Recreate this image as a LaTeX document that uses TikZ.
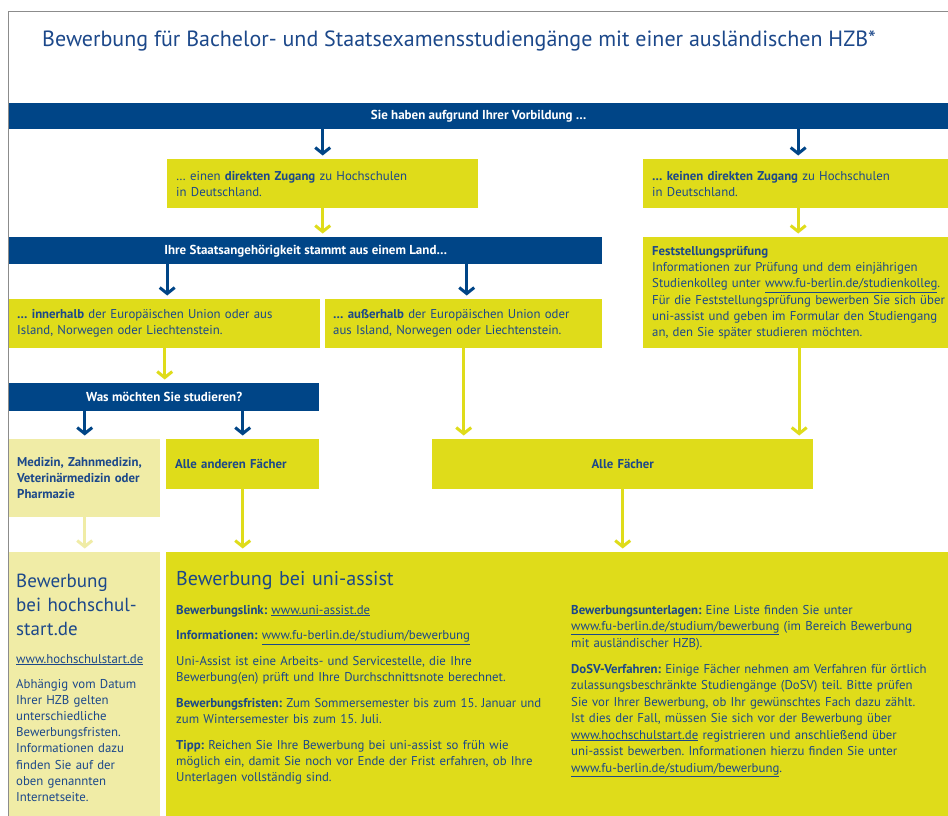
\documentclass[tikz,border=0pt]{standalone}
\usepackage{fontspec}
\setmainfont{PT Sans}
\usetikzlibrary{arrows.meta}
\definecolor{fublue}{RGB}{0,69,135}
\definecolor{fuyellow}{RGB}{223,220,26}
\definecolor{fulight}{RGB}{240,236,166}
\definecolor{futext}{RGB}{28,72,138}
\definecolor{frgray}{RGB}{140,140,140}
\newcommand\fulink[1]{\underline{#1}}
\newcommand\fubody{\fontsize{12.8}{16.2}\selectfont}
\frenchspacing
\tikzset{
  barbox/.style={fill=fublue, text=white, font=\bfseries\fontsize{13}{15}\selectfont,
    inner sep=0pt, anchor=north west, align=center},
  ybox/.style={fill=fuyellow, text=futext, font=\fubody, inner xsep=9pt, inner ysep=0pt,
    anchor=north west, align=left},
  lbox/.style={ybox, fill=fulight},
  bigbox/.style={inner sep=0pt, anchor=north west},
  para/.style={anchor=base west, inner sep=0pt, text=futext, font=\fubody, align=left},
  flowarrow/.style={line width=3pt, -{Straight Barb[length=6pt,width=15pt]}, shorten >=3.5pt},
  bluearrow/.style={flowarrow, draw=fublue},
  yelarrow/.style={flowarrow, draw=fuyellow},
  lightarrow/.style={flowarrow, draw=fulight},
}
\begin{document}
\begin{tikzpicture}[x=1pt,y=-1pt]
\useasboundingbox (0,0) rectangle (948,816);
\fill[white] (0,0) rectangle (948,816);
\draw[frgray, line width=1pt] (8.5,816) -- (8.5,11.5) -- (948,11.5);

\node[anchor=base west, inner sep=0pt, text=futext, font=\fontsize{22}{24}\selectfont] (title) at (42,47)
  {Bewerbung für Bachelor- und Staatsexamensstudiengänge mit einer ausländischen HZB*};

% bars
\node[barbox, minimum width=939pt, minimum height=26pt] (bar1) at (9,103) {Sie haben aufgrund Ihrer Vorbildung …};
\node[barbox, minimum width=593pt, minimum height=27pt] (bar2) at (9,237) {Ihre Staatsangehörigkeit stammt aus einem Land…};
\node[barbox, minimum width=310pt, minimum height=28pt] (bar3) at (9,383) {Was möchten Sie studieren?};

% yellow boxes
\node[ybox, text width=293pt, minimum height=49pt] (direkt) at (167,159)
  {… einen \textbf{direkten Zugang} zu Hochschulen\\in Deutschland.};
\node[ybox, text width=300pt, minimum height=49pt] (kein) at (643,159)
  {\textbf{… keinen direkten Zugang} zu Hochschulen\\in Deutschland.};
\node[ybox, text width=300pt, minimum height=111pt] (fest) at (643,237)
  {\textbf{Feststellungsprüfung}\\Informationen zur Prüfung und dem einjährigen\\Studienkolleg unter \fulink{www.fu-berlin.de/studienkolleg}.\\Für die Feststellungsprüfung bewerben Sie sich über\\uni-assist und geben im Formular den Studiengang\\an, den Sie später studieren möchten.};
\node[ybox, inner xsep=8pt, text width=295pt, minimum height=49pt] (innen) at (9,299)
  {\textbf{… innerhalb} der Europäischen Union oder aus\\Island, Norwegen oder Liechtenstein.};
\node[ybox, inner xsep=8pt, text width=261pt, minimum height=49pt] (aussen) at (325,299)
  {\textbf{… außerhalb} der Europäischen Union oder\\aus Island, Norwegen oder Liechtenstein.};
\node[lbox, inner xsep=8pt, text width=135pt, minimum height=78pt, font=\bfseries\fubody] (med) at (9,439)
  {Medizin, Zahnmedizin,\\Veterinärmedizin oder\\Pharmazie};
\node[ybox, text width=135pt, minimum height=50pt, font=\bfseries\fubody] (andere) at (166,439)
  {Alle anderen Fächer};
\node[ybox, text width=363pt, minimum height=50pt, font=\bfseries\fubody, align=center] (allef) at (432,439)
  {Alle Fächer};

% bottom boxes
\node[bigbox, fill=fulight, minimum width=151pt, minimum height=264pt] (hs) at (9,552) {};
\node[bigbox, fill=fuyellow, minimum width=782pt, minimum height=264pt] (ua) at (166,552) {};

\node[para, font=\fontsize{19}{24}\selectfont, text width=140pt] (hshead) at (16,587) {Bewerbung\\bei hochschul-\\start.de};
\node[para, text width=140pt] (hslink) at (16,663) {\fulink{www.hochschulstart.de}};
\node[para, text width=140pt] (hstext) at (16,688)
  {Abhängig vom Datum\\Ihrer HZB gelten\\unterschiedliche\\Bewerbungsfristen.\\Informationen dazu\\finden Sie auf der\\oben genannten\\Internetseite.};

\node[para, font=\fontsize{20}{24}\selectfont, text width=380pt] (uahead) at (176,585) {Bewerbung bei uni-assist};
\node[para, text width=390pt] (ualeft) at (176,614)
  {\textbf{Bewerbungslink:} \fulink{www.uni-assist.de}\\[9.5pt]
   \textbf{Informationen:} \fulink{www.fu-berlin.de/studium/bewerbung}\\[9.5pt]
   Uni-Assist ist eine Arbeits- und Servicestelle, die Ihre\\Bewerbung(en) prüft und Ihre Durchschnittsnote berechnet.\\[9.5pt]
   \textbf{Bewerbungsfristen:} Zum Sommersemester bis zum 15. Januar und\\zum Wintersemester bis zum 15. Juli.\\[9.5pt]
   \textbf{Tipp:} Reichen Sie Ihre Bewerbung bei uni-assist so früh wie\\möglich ein, damit Sie noch vor Ende der Frist erfahren, ob Ihre\\Unterlagen vollständig sind.};
\node[para, text width=372pt, font=\fontsize{12.8}{16.5}\selectfont] (uaright) at (571,614)
  {\textbf{Bewerbungsunterlagen:} Eine Liste finden Sie unter\\\fulink{www.fu-berlin.de/studium/bewerbung} (im Bereich Bewerbung\\mit ausländischer HZB).\\[9.5pt]
   \textbf{DoSV-Verfahren:} Einige Fächer nehmen am Verfahren für örtlich\\zulassungsbeschränkte Studiengänge (DoSV) teil. Bitte prüfen\\Sie vor Ihrer Bewerbung, ob Ihr gewünschtes Fach dazu zählt.\\Ist dies der Fall, müssen Sie sich vor der Bewerbung über\\\fulink{www.hochschulstart.de} registrieren und anschließend über\\uni-assist bewerben. Informationen hierzu finden Sie unter\\\fulink{www.fu-berlin.de/studium/bewerbung}.};

% arrows
\draw[bluearrow] (bar1.south -| direkt.north) -- (direkt.north);
\draw[bluearrow] ([xshift=-4pt]bar1.south -| kein.north) -- ([xshift=-4pt]kein.north);
\draw[yelarrow] (direkt.south) -- (direkt.south |- bar2.north);
\draw[yelarrow] ([xshift=-4pt]kein.south) -- ([xshift=-4pt]kein.south |- fest.north);
\draw[bluearrow] ([xshift=2.5pt]bar2.south -| innen.north) -- ([xshift=2.5pt]innen.north);
\draw[bluearrow] ([xshift=3pt]bar2.south -| aussen.north) -- ([xshift=3pt]aussen.north);
\draw[yelarrow] (innen.south) -- (innen.south |- bar3.north);
\draw[bluearrow] (bar3.south -| med.north) -- (med.north);
\draw[bluearrow] (bar3.south -| andere.north) -- (andere.north);
\draw[yelarrow] (aussen.south) -- (aussen.south |- allef.north);
\draw[yelarrow] ([xshift=-3pt]fest.south) -- ([xshift=-3pt]fest.south |- allef.north);
\draw[lightarrow] (med.south) -- (med.south |- hs.north);
\draw[yelarrow] (andere.south) -- (andere.south |- ua.north);
\draw[yelarrow] (allef.south) -- (allef.south |- ua.north);
\end{tikzpicture}
\end{document}
